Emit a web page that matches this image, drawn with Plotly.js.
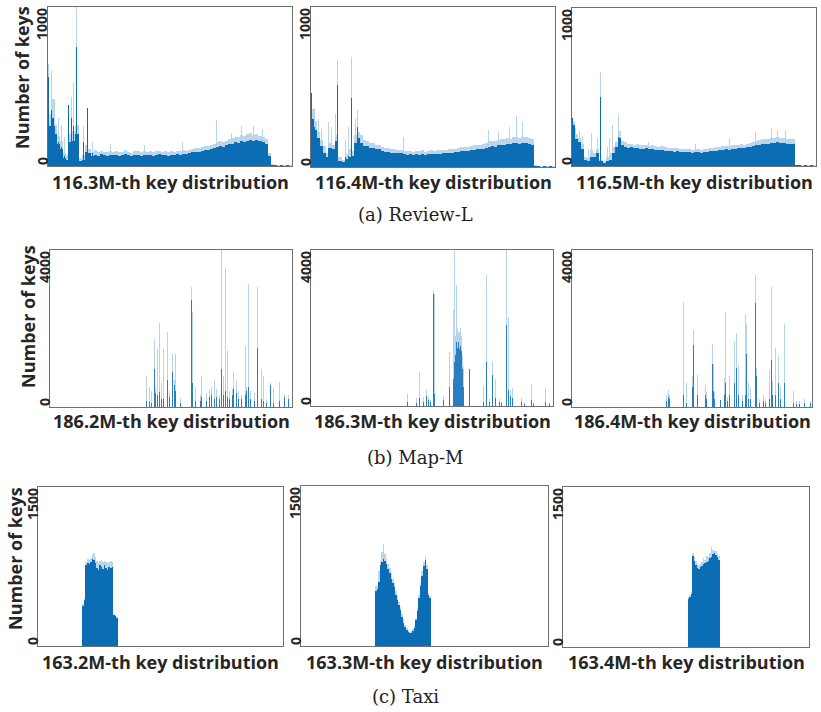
<!DOCTYPE html>
<html><head><meta charset="utf-8">
<script src="https://cdn.plot.ly/plotly-3.0.1.min.js"></script>
<style>html,body{margin:0;padding:0;background:#fff}#chart{width:821px;height:712px}</style>
</head><body><div id="chart"></div>
<script>
// ---------------- DATA ----------------
const xTitles = [
  '116.3M-th key distribution', '116.4M-th key distribution', '116.5M-th key distribution',
  '186.2M-th key distribution', '186.3M-th key distribution', '186.4M-th key distribution',
  '163.2M-th key distribution', '163.3M-th key distribution', '163.4M-th key distribution'
];
const captions = ['(a) Review-L', '(b) Map-M', '(c) Taxi'];
const yTitle = 'Number of keys';
const rowMax = [1000, 4000, 1500];
const rowMaxLabels = ['1000', '4000', '1500'];
const zeroLabel = '0';

// Review-L: 80 bins per panel (dark body level, light upper envelope) + thin spikes
const reviewL1Body = [250,300,200,140,110,50,40,150,160,200, 30,40,90,80,60,70,60,75,70,65,
  70,68,72,66,70,74,68,65,70,72, 66,70,68,72,65,70,73,68,70,66, 72,70,74,72,76,75,80,85,90,90,
  95,100,100,110,115,120,125,120,130,140, 140,150,145,155,150,160,165,160,165,155, 150,140,60,5,4,3,4,3,4,3];
const reviewL1Peak = [330,420,260,190,160,80,70,200,220,260, 50,70,130,110,90,100,85,95,88,90,
  92,86,95,88,90,98,86,84,92,95, 88,96,90,94,85,92,97,88,94,86, 92,90,96,94,98,96,100,108,112,115,
  118,125,125,135,140,150,155,150,160,170, 175,185,180,195,190,200,205,195,200,190, 185,170,80,10,6,5,6,5,6,5];
const reviewL1SpikeX = [0.3,1.3,2.2,3.5,4.3,5.5,6.7,7.8,8.5,9.2,11.6,12.9,14.5,20.5,31.8,44.0,55.3,60.3,63.5,67.5,70.2];
const reviewL1SpikePale = [640,600,420,300,260,180,384,434,520,1000,252,365,150,140,130,150,290,210,250,250,230];
const reviewL1SpikeDark = [560,350,250,150,120,60,384,300,250,750,150,365,80,70,70,72,120,140,155,160,150];

const reviewL2Body = [300,230,180,130,90,60,120,110,160,40, 30,50,60,70,150,180,150,130,130,120,
  120,110,110,100,95,95,90,90,85,85, 80,78,80,76,80,78,82,76,80,82, 80,84,82,85,86,88,90,92,95,98,
  100,102,105,108,110,112,115,118,125,130, 128,135,140,138,145,142,150,148,145,150, 148,145,140,5,4,3,4,3,4,3];
const reviewL2Peak = [360,290,220,170,130,90,150,140,200,60, 45,80,110,100,200,220,200,170,165,150,
  150,140,135,125,120,120,115,112,105,105, 100,98,100,96,100,98,104,96,100,104, 100,106,104,108,108,110,112,115,120,124,
  125,128,132,135,138,140,145,150,165,165, 160,170,175,172,180,178,190,185,180,188, 185,180,175,10,6,5,6,5,6,5];
const reviewL2SpikeX = [0.2,1.0,2.3,3.4,5.8,6.6,7.9,8.8,11.3,12.4,13.2,14.6,15.3,30.2,58.2,61.5,65.2,67.3,69.4];
const reviewL2SpikePale = [460,370,300,240,280,250,330,670,170,250,690,300,356,190,231,220,250,319,282];
const reviewL2SpikeDark = [460,250,180,120,120,110,160,512,60,70,430,150,250,80,125,135,142,148,150];

const reviewL3Body = [260,170,150,110,40,30,60,60,80,30, 20,30,40,80,120,180,130,120,115,118,
  112,115,110,108,112,105,108,104,100,102, 98,95,92,90,94,88,90,86,88,85, 86,88,85,90,88,92,95,98,100,102,
  105,104,108,110,112,115,112,118,122,128, 130,135,138,140,142,145,148,150,146,145, 140,142,138,4,4,3,4,3,4,3];
const reviewL3Peak = [280,200,180,140,60,50,100,80,110,40, 30,60,80,120,150,220,160,150,140,142,
  135,140,132,130,135,128,130,126,122,124, 118,116,114,112,115,108,110,106,108,104, 106,108,104,110,108,112,115,118,122,124,
  128,126,130,132,135,140,136,142,148,155, 160,165,168,170,172,175,178,182,178,175, 170,172,168,8,6,5,6,5,6,5];
const reviewL3SpikeX = [0.2,1.2,2.4,3.4,5.3,6.3,8.3,9.2,11.5,12.4,13.2,15.2,25.0,40.5,51.5,60.2,65.3,67.5,70.0];
const reviewL3SpikePale = [304,240,220,190,110,208,180,597,120,177,260,323,155,140,177,217,240,230,225];
const reviewL3SpikeDark = [304,170,150,110,30,60,80,439,30,40,80,184,105,86,104,130,145,150,140];

// Map-M: sparse spikes (position on 0-80 scale, light top, dark part)
const mapM1SpikeX = [32.0,32.8,33.6,34.5,35.0,35.5,36.1,36.8,37.5,38.8,39.4,40.4,41.1,41.5,43.0,46.8,47.2,48.2,49.6,50.1,
  51.8,52.7,53.4,54.3,54.9,55.9,56.8,57.2,58.1,58.7,59.5,60.3,60.8,61.5,62.3,63.4,64.5,65.1,65.6,66.3,
  67.5,68.5,69.8,70.5,71.6,73.0,74.0,75.8,77.5,79.0];
const mapM1SpikePale = [795,500,400,1735,500,1480,2145,600,1480,1906,400,1350,700,1350,230,3060,2410,500,300,795,
  350,430,500,700,450,300,4000,800,3530,1436,400,450,900,700,400,300,1560,500,3145,400,
  350,3060,970,780,200,600,480,630,300,300];
const mapM1SpikeDark = [150,120,100,970,367,300,370,200,200,700,250,900,550,400,100,2718,600,150,150,250,
  150,250,300,200,250,200,970,300,400,250,200,300,450,350,200,200,300,400,500,200,
  150,1500,200,150,100,560,100,150,250,200];

const mapM2SpikeX = [31.8,35.0,36.0,37.2,38.2,38.8,39.5,40.4,40.7,43.7,45.7,47.0,47.3,47.6,47.9,48.2,48.5,48.8,49.1,49.4,
  49.7,50.0,50.3,52.3,57.0,58.1,58.9,59.9,61.0,62.4,63.1,64.7,65.3,65.9,66.5,69.7,70.5,72.9,73.6,77.4,78.8];
const mapM2SpikePale = [300,200,860,230,430,230,150,2968,2880,250,1376,2450,4000,2300,1800,3115,2000,1900,1900,2000,
  1800,1300,1000,946,516,3355,170,1161,688,170,100,4000,2280,400,473,200,100,560,100,473,100];
const mapM2SpikeDark = [100,80,200,100,250,150,100,2880,300,150,500,700,1118,1100,1300,1634,1500,1634,1450,1548,
  1400,946,500,946,100,1118,100,800,200,100,80,2065,400,260,200,100,60,150,60,100,50];

const mapM3SpikeX = [31.6,32.1,32.5,33.0,36.0,37.1,38.2,40.1,40.4,41.8,44.4,44.8,46.0,46.7,47.1,47.6,49.0,49.5,50.0,50.7,
  51.3,51.8,52.4,53.0,54.1,54.7,55.4,56.7,57.7,58.2,58.7,59.5,61.2,61.5,62.5,63.7,64.6,65.7,66.6,66.9,
  67.7,68.8,69.6,70.7,73.9,74.9,75.8,77.4,79.5];
const mapM3SpikePale = [300,426,300,200,809,2680,600,780,1957,826,550,380,4000,1596,1100,380,170,170,200,745,
  2425,250,800,1085,1680,1873,1064,300,2358,2126,600,500,3360,1000,200,300,200,950,3063,660,
  1515,1300,500,2126,400,150,150,200,150];
const mapM3SpikeDark = [150,250,200,100,200,300,100,500,1575,300,300,200,3489,1100,400,200,170,170,150,300,
  600,150,300,300,600,1000,300,150,300,1362,200,200,2638,800,100,150,100,200,1190,300,
  300,600,200,600,100,80,80,100,100];

// Taxi: half-width bins starting at given position on the 0-80 scale
const taxi1Start = 14.5;
const taxi1Body = [380,430,760,780,770,790,820,810,780,740,720,760,750,730,760,740,720,750,740,750,290,280,260];
const taxi1Peak = [400,450,790,820,810,830,860,880,840,800,780,800,810,790,800,790,780,790,800,790,300,290,270];
const taxi2Start = 24.0;
const taxi2Body = [520,530,600,760,790,820,800,770,720,680,630,590,550,480,430,380,340,270,220,180,
  150,130,120,125,140,170,240,330,450,560,660,750,810,720,480,450];
const taxi2Peak = [560,570,700,800,880,960,860,820,770,730,680,630,590,520,470,410,370,300,250,200,
  170,150,135,140,160,190,260,360,480,590,700,790,840,760,500,470];
const taxi3Start = 40.5;
const taxi3Body = [450,470,500,850,810,770,740,730,750,760,780,790,800,810,830,840,870,880,860,840,820];
const taxi3Peak = [470,490,520,880,840,810,780,770,790,800,830,820,850,840,880,940,910,900,900,870,850];

// ---------------- LAYOUT / DRAW ----------------
const W = 821, H = 712;
const DARK = '#0b6db4', PALE = '#b9d6ec', SPDARK = '#2a7dbf', SPPALE = '#b6d4eb';
const TXT = '#262626';
const boxes = [[48,7,292,166],[311,7,555,167],[572,8,816,166],
               [50,250,292,407],[311,250,553,406],[572,250,812,407],
               [38,487,283,646],[301,486,548,646],[563,487,809,647]];
const ax = k => (k === 1 ? '' : String(k));
const traces = [];
function barTrace(k, xs, ys, w, color) {
  traces.push({type:'bar', x: xs, y: ys, width: w, xaxis:'x'+ax(k), yaxis:'y'+ax(k),
    hoverinfo:'skip', showlegend:false, marker:{color: color, opacity:1, line:{width:0}}});
}
function binX(n, start, step) { return Array.from({length:n}, (_, i) => start + (i + 0.5) * step); }
function panel(k, body, peak, start, step, sx, spale, sdark) {
  const xs = body ? binX(body.length, start, step) : null;
  if (peak) barTrace(k, xs, peak, step, PALE);
  if (sx) barTrace(k, sx, spale, 0.33, SPPALE);
  if (body) barTrace(k, xs, body, step, DARK);
  if (sx) barTrace(k, sx, sdark, 0.33, body ? DARK : SPDARK);
}
panel(1, reviewL1Body, reviewL1Peak, 0, 1, reviewL1SpikeX, reviewL1SpikePale, reviewL1SpikeDark);
panel(2, reviewL2Body, reviewL2Peak, 0, 1, reviewL2SpikeX, reviewL2SpikePale, reviewL2SpikeDark);
panel(3, reviewL3Body, reviewL3Peak, 0, 1, reviewL3SpikeX, reviewL3SpikePale, reviewL3SpikeDark);
panel(4, null, null, 0, 1, mapM1SpikeX, mapM1SpikePale, mapM1SpikeDark);
panel(5, null, null, 0, 1, mapM2SpikeX, mapM2SpikePale, mapM2SpikeDark);
panel(6, null, null, 0, 1, mapM3SpikeX, mapM3SpikePale, mapM3SpikeDark);
panel(7, taxi1Body, taxi1Peak, taxi1Start, 0.5);
panel(8, taxi2Body, taxi2Peak, taxi2Start, 0.5);
panel(9, taxi3Body, taxi3Peak, taxi3Start, 0.5);

const layout = {
  width: W, height: H, margin:{l:0,r:0,t:0,b:0}, showlegend:false,
  barmode:'overlay', bargap:0, paper_bgcolor:'#fff', plot_bgcolor:'#fff',
  annotations: []
};
const axStyle = {showline:true, mirror:true, linecolor:'#707070', linewidth:1, showgrid:false, zeroline:false,
  showticklabels:false, ticks:'', fixedrange:true};
const boldFont = {family:'"Open Sans", sans-serif', size:18, color:TXT};
const tickFont = {family:'"Open Sans", sans-serif', size:14, color:TXT};
boxes.forEach((b, i) => {
  const k = i + 1, row = Math.floor(i / 3);
  const [l, t, r, bt] = b;
  layout['xaxis' + ax(k)] = Object.assign({}, axStyle, {domain:[l/W, r/W], range:[0,80], anchor:'y'+ax(k)});
  layout['yaxis' + ax(k)] = Object.assign({}, axStyle, {domain:[1-bt/H, 1-t/H], range:[0,rowMax[row]], anchor:'x'+ax(k)});
  const tx = (l - 6) / W;
  layout.annotations.push({text:'<b>'+rowMaxLabels[row]+'</b>', textangle:-90, xref:'paper', x:tx, xanchor:'center',
    yref:'y'+ax(k), y:rowMax[row], yanchor:'top', showarrow:false, font:tickFont, borderpad:0});
  layout.annotations.push({text:'<b>'+zeroLabel+'</b>', textangle:-90, xref:'paper', x:tx, xanchor:'center',
    yref:'y'+ax(k), y:0, yanchor:'bottom', showarrow:false, font:tickFont, borderpad:0});
  const titleY = [182, 421, 662][row];
  layout.annotations.push({text:'<b>'+xTitles[i]+'</b>', xref:'paper', x:(l+r)/2/W, xanchor:'center',
    yref:'paper', y:1-titleY/H, yanchor:'middle', showarrow:false, font:boldFont});
});
[[22,78],[28,317],[15,559]].forEach(p => {
  layout.annotations.push({text:'<b>'+yTitle+'</b>', textangle:-90, xref:'paper', x:p[0]/W, xanchor:'center',
    yref:'paper', y:1-p[1]/H, yanchor:'middle', showarrow:false, font:boldFont});
});
[[415,214],[415,457],[405,696]].forEach((p, i) => {
  layout.annotations.push({text:captions[i], xref:'paper', x:p[0]/W, xanchor:'center',
    yref:'paper', y:1-p[1]/H, yanchor:'middle', showarrow:false,
    font:{family:'"DejaVu Serif", serif', size:18, color:'#222'}});
});
Plotly.newPlot('chart', traces, layout, {staticPlot:true, displayModeBar:false});
</script></body></html>
